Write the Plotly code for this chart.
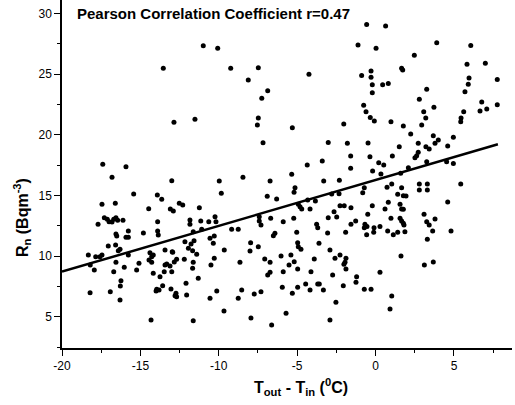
import plotly.graph_objects as go

# Scatter data (temperature difference, radon concentration)
temp_diff = [
    -13.54, -10.99, -10.07, -9.24, -7.48, -8.12, -6.88, -7.26, -7.48, -11.52, -12.86,
    -0.57, 0.64, -1.12, 0.03, -4.25, -0.89, -0.29, -0.29, -0.21, 0.45, 0.81, -0.21,
    1.66, 1.73, -0.76, -0.61, -0.34, 3.90, 6.07, 2.47, 5.83, 7.00, 7.76, 5.96, 5.91,
    5.70, 3.26, 2.79, 3.72, 3.07, 3.20, 6.77, 7.76, 6.66, 7.09, 5.62, 5.45,
    -17.40, -15.92, -16.81, -13.00, -15.43, -13.92, -13.64, -17.45, -16.60, -14.47,
    -13.09, -12.90, -17.30, -17.11, -17.00, -16.70, -16.56, -16.45, -16.11, -16.81,
    -17.70, -13.90, -15.77, -14.81, -13.90, -16.56,
    -7.54, -7.18, -9.97, -8.46, -6.73, -9.84, -6.91, -6.31, -12.52, -12.30, -11.24,
    -10.24, -11.84, -11.15, -10.64, -10.18, -11.84, -7.42, -7.42, -7.31, -6.69, -5.89,
    -11.09, -11.63, -9.18, -8.76, -6.42,
    -5.31, -2.03, -0.08, 0.98, 1.77, -3.02, -1.80, -0.48, 1.51, -1.59, -0.36, 1.07,
    -3.40, -4.36, -1.59, 0.20, 0.52, -0.19, 0.34, -5.35, -3.31, -2.31, 1.60, -5.14,
    -5.20, -2.80, -2.33, -0.72, -0.82, 0.73, 1.03, 1.66, 1.41, 1.77, -4.33, -3.84,
    -4.93, -4.82, -4.71, -4.18, -2.27, -2.00, -1.57, -0.21, 0.81, 0.60, 1.56, 1.66,
    -2.65, -5.22, -3.02, -2.48, -0.50, -1.27, -1.57, -0.68, -0.55, -0.72, -0.10, 0.28,
    0.98, 1.56, 1.66, 1.77, -3.76, -3.69, -5.03, -3.06, -1.91, -0.12, 0.77, 1.41,
    5.43, 2.94, 2.24, 3.68, 4.96, 4.00, 3.79, 2.72, 3.21, 3.42, 4.60, 2.72, 2.62, 2.51,
    3.26, 4.53, 4.96, 2.09, 5.43, 2.79, 3.30, 2.79, 3.30, 1.94, 4.60, 1.77, 3.09, 3.26,
    3.42, 3.79, 1.81, 3.64, 4.81,
    -13.86, -16.51, -15.92, -15.77, -17.05, -16.58, -16.30, -16.41, -18.32, -17.85,
    -17.58, -17.45, -15.77, -14.39, -14.28, -14.18, -13.43, -12.97, -16.56, -18.20,
    -17.94, -16.03, -15.09, -15.24, -14.45, -14.28, -16.70, -14.18, -13.43, -13.48,
    -13.32, -13.11, -12.84, -13.00, -13.75, -16.24, -16.28, -18.21, -16.92, -16.30,
    -13.96, -14.00, -13.81, -13.58, -13.05, -12.79, -14.32,
    -10.56, -10.29, -6.52, -12.16, -11.77, -11.58, -11.94, -11.67, -10.35, -7.97,
    -7.48, -8.01, -9.65, -12.94, -11.41, -12.69, -12.20, -11.63, -11.67, -10.29,
    -10.50, -8.65, -7.07, -6.73, -6.03, -5.89, -5.52, -6.73, -6.88, -11.31, -12.09,
    -12.69, -12.73, -12.05, -10.13, -10.56, -8.54, -8.76, -7.74, -7.31, -5.95, -9.67,
    -11.63, -7.95, -6.63, -5.71,
    -0.57, 1.13, -4.97, -4.93, -4.76, -3.61, -2.91, -5.40, -5.19, -3.91, -2.59, -2.27,
    -1.89, -1.95, -2.02, 1.62, -4.97, -4.12, -1.89, -2.74, 0.28, -1.21, -1.25, -4.46,
    -3.69, -3.59, -2.06, -4.97, -4.18, -3.33, -5.31, -0.72, -0.29, 1.03, -2.53, 0.92,
    -2.91, 3.30, 3.11, 3.68, 1.87,
]
radon = [
    25.47, 27.33, 27.12, 25.47, 25.52, 24.51, 23.62, 23.00, 21.38, 21.27, 21.02,
    29.09, 28.95, 27.39, 27.12, 24.98, 24.89, 25.25, 24.73, 24.12, 24.12, 24.23, 23.46,
    25.47, 25.33, 22.42, 21.89, 21.43, 27.58, 27.36, 26.54, 25.80, 25.88, 24.56, 24.67, 24.15,
    23.54, 23.74, 22.92, 22.26, 21.89, 21.38, 22.69, 22.47, 21.95, 22.12, 21.89, 21.38,
    17.56, 17.36, 16.49, 16.21, 15.12, 15.03, 14.68, 14.27, 14.35, 13.90,
    13.88, 13.71, 13.16, 13.03, 12.83, 13.03, 13.16, 12.95, 12.95, 12.82,
    12.62, 12.83, 12.07, 11.90, 12.07, 11.82,
    20.80, 19.34, 16.19, 16.49, 16.19, 15.17, 14.93, 14.70, 14.35, 14.21, 13.99,
    13.25, 12.97, 12.89, 12.83, 12.83, 12.62, 13.25, 12.89, 12.56, 13.11, 12.83,
    12.21, 12.01, 12.21, 12.21, 11.88,
    20.58, 20.88, 21.13, 21.07, 20.72, 19.37, 19.29, 19.32, 19.01, 18.25, 18.19, 18.25,
    17.83, 17.50, 17.23, 17.69, 17.50, 17.01, 16.76, 16.74, 16.19, 16.24, 16.82, 15.63,
    15.26, 15.12, 15.14, 15.63, 15.22, 15.67, 15.94, 15.63, 15.09, 14.98, 14.62, 14.54,
    14.27, 14.07, 13.88, 13.88, 14.15, 14.15, 13.99, 14.15, 14.43, 13.88, 14.27, 13.88,
    13.66, 13.11, 13.16, 13.22, 13.44, 12.89, 12.62, 12.62, 12.45, 12.34, 12.34, 12.45,
    13.11, 13.11, 12.89, 12.70, 12.62, 12.34, 11.96, 11.90, 11.96, 11.96, 12.07, 11.96,
    21.07, 20.80, 20.06, 19.92, 19.79, 19.56, 19.29, 19.29, 19.01, 18.82, 19.07, 18.55, 18.27, 18.11,
    17.78, 17.78, 17.64, 17.28, 15.94, 15.94, 15.94, 15.44, 15.44, 14.95, 14.46, 13.86, 13.44, 12.83,
    12.56, 13.06, 12.56, 12.07, 12.07,
    11.74, 11.66, 11.55, 11.55, 10.83, 10.91, 10.56, 10.44, 10.09, 9.95,
    9.95, 10.09, 10.09, 10.28, 9.95, 10.09, 10.50, 10.36, 9.49, 9.27,
    8.86, 9.08, 9.41, 8.86, 9.68, 9.49, 8.72, 8.58, 9.27, 8.72,
    9.35, 9.19, 9.51, 8.72, 8.30, 7.98, 7.54, 6.99, 7.07, 6.38,
    7.26, 7.13, 7.20, 7.56, 7.29, 6.74, 4.74,
    11.47, 11.66, 11.68, 11.19, 11.00, 11.27, 10.64, 10.44, 11.05, 11.10,
    10.77, 10.42, 10.50, 10.31, 10.15, 9.74, 9.74, 9.49, 9.00, 9.82,
    9.27, 9.49, 9.76, 9.49, 10.01, 8.72, 9.27, 8.67, 8.44, 8.17, 7.76,
    6.66, 6.94, 6.79, 7.13, 6.52, 7.21, 6.52, 6.88, 7.07, 7.43, 5.48,
    4.68, 4.90, 4.32, 5.29,
    11.76, 11.76, 11.10, 10.77, 10.56, 11.05, 10.50, 10.09, 9.54, 9.76, 9.82, 10.09,
    9.82, 9.49, 9.32, 10.01, 8.94, 8.72, 8.94, 8.44, 8.67, 8.30, 7.84, 7.70,
    7.70, 7.70, 7.56, 7.43, 7.21, 7.21, 6.94, 7.27, 7.27, 6.71, 6.19, 5.64,
    4.74, 11.38, 9.27, 9.51, 12.01,
]

# Linear fit line end points
fit_x = [-20.0, 7.8]
fit_y = [8.72, 19.21]

x_ticks = [-20, -15, -10, -5, 0, 5]
y_ticks = [5, 10, 15, 20, 25, 30]

fig = go.Figure()
fig.add_trace(go.Scatter(
    x=temp_diff, y=radon, mode="markers",
    marker=dict(color="black", size=5, line=dict(width=0)),
    showlegend=False, hoverinfo="skip"))
fig.add_trace(go.Scatter(
    x=fit_x, y=fit_y, mode="lines",
    line=dict(color="black", width=2.5),
    showlegend=False, hoverinfo="skip"))

font_family = "Liberation Sans, Arial, sans-serif"

fig.update_layout(
    width=515, height=405,
    margin=dict(l=62, r=3, t=0, b=57),
    paper_bgcolor="white", plot_bgcolor="white",
    font=dict(family=font_family, color="black", size=12),
    xaxis=dict(
        range=[-20, 8.7], tickvals=x_ticks, ticktext=[str(v) for v in x_ticks],
        showgrid=False, zeroline=False, showline=True, linecolor="black", linewidth=1.5,
        ticks="outside", ticklen=6, tickwidth=1.2, tickcolor="black",
        minor=dict(dtick=2.5, tick0=0, ticks="outside", ticklen=3, tickwidth=1, tickcolor="black"),
        tickfont=dict(size=12),
    ),
    yaxis=dict(
        range=[2.43, 31.1], tickvals=y_ticks, ticktext=[str(v) for v in y_ticks],
        showgrid=False, zeroline=False, showline=True, linecolor="black", linewidth=1.5,
        ticks="outside", ticklen=6, tickwidth=1.2, tickcolor="black",
        minor=dict(dtick=2.5, tick0=0, ticks="outside", ticklen=3, tickwidth=1, tickcolor="black"),
        tickfont=dict(size=12),
    ),
    annotations=[
        dict(text="<b>Pearson Correlation Coefficient r=0.47</b>",
             xref="paper", yref="paper", x=0.029, y=0.96,
             xanchor="left", yanchor="middle", showarrow=False,
             font=dict(size=15, family=font_family)),
        dict(text="<b>R<sub>n</sub> (Bqm<sup>-3</sup>)</b>",
             xref="paper", yref="paper", x=-0.089, y=0.376,
             xanchor="center", yanchor="middle", textangle=-90, showarrow=False,
             font=dict(size=16, family=font_family)),
        dict(text="<b>T<sub>out</sub> - T<sub>in</sub> (<sup>0</sup>C)</b>",
             xref="paper", yref="paper", x=0.531, y=-0.112,
             xanchor="center", yanchor="middle", showarrow=False,
             font=dict(size=16, family=font_family)),
    ],
)

fig.write_html("out.html")
